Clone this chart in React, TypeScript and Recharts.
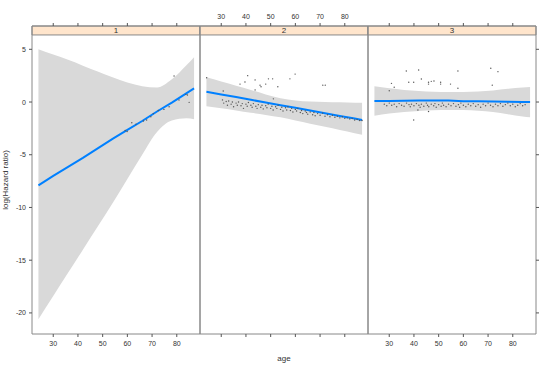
import React from 'react';
import {
  ComposedChart,
  Area,
  Line,
  Scatter,
  XAxis,
  YAxis,
  ReferenceArea,
} from 'recharts';

const C = {
  axis: '#888888',
  tick: '#555555',
  text: '#333333',
  band: '#D9D9D9',
  fit: '#0080FF',
  strip: '#FFE5CC',
  point: '#555555',
};

const FONT = '"Liberation Sans", Arial, sans-serif';

// shared scales
const X_DOMAIN: [number, number] = [21.4, 89.4];
const Y_DOMAIN: [number, number] = [-22, 7.21];
const STRIP_BOTTOM = 6.36;
const X_TICKS = [30, 40, 50, 60, 70, 80];
const Y_TICKS = [-20, -15, -10, -5, 0, 5];

// smooth fit + confidence band, evaluated at these ages
const AGES = [24, 30, 36, 42, 48, 54, 60, 66, 72, 78, 84, 87];

const fit1 = [-7.9, -7.0, -6.15, -5.3, -4.4, -3.5, -2.65, -1.8, -0.9, -0.05, 0.85, 1.3];
const upper1 = [5.0, 4.5, 4.0, 3.45, 2.9, 2.35, 1.85, 1.5, 1.38, 2.15, 3.5, 4.25];
const lower1 = [-20.6, -18.4, -16.2, -14.0, -11.8, -9.6, -7.3, -5.0, -2.85, -1.75, -1.55, -1.64];

const fit2 = [0.98, 0.72, 0.47, 0.21, -0.04, -0.3, -0.55, -0.81, -1.06, -1.32, -1.57, -1.7];
const upper2 = [2.35, 1.95, 1.55, 1.15, 0.72, 0.35, 0.15, 0.05, 0.0, -0.03, -0.06, -0.08];
const lower2 = [-0.4, -0.6, -0.8, -1.02, -1.22, -1.45, -1.75, -2.05, -2.35, -2.65, -2.95, -3.1];

const fit3 = [0.1, 0.1, 0.12, 0.14, 0.14, 0.14, 0.08, 0.07, 0.06, 0.02, 0.0, 0.0];
const upper3 = [1.5, 1.3, 1.15, 1.05, 0.98, 0.95, 0.95, 1.0, 1.1, 1.25, 1.38, 1.42];
const lower3 = [-1.3, -1.1, -0.95, -0.85, -0.78, -0.75, -0.76, -0.82, -0.95, -1.15, -1.38, -1.45];

// residual points [age, value]
const points1: [number, number][] = [
  [78.9, 2.47], [83.7, 0.73], [85, -0.03], [80.9, 0.19], [76.9, -0.45], [74.8, -0.7],
  [69.5, -1.4], [67.8, -1.7], [66.5, -1.8], [59.1, -2.7], [59.9, -2.8], [61.8, -1.96],
  [70.5, -1.1], [84.3, 0.66], [63.5, -2.1], [72.5, -0.8],
];

const points2: [number, number][] = [
  [24.1, 2.3], [40.7, 2.5], [37.6, 1.7], [39.6, 1.9], [43.7, 2.1], [45.7, 1.6], [46.1, 1.45],
  [48, 1.7], [49.1, 2.2], [50.8, 2.2], [52.9, 1.45], [57.8, 2.2], [59.9, 2.65], [43.7, 1.15],
  [71.1, 1.6], [72.1, 1.6], [30.8, 1.05], [51.1, 0.3],
  [30.5, 0.2], [31, -0.1], [32, 0.05], [32.5, -0.3], [33, 0.1], [34, -0.2], [34.5, 0.0],
  [35, -0.45], [36, -0.1], [36.5, -0.3], [37, 0.0], [38, -0.35], [38.5, -0.15], [39, -0.6],
  [40, -0.2], [40.5, -0.4], [41, -0.05], [42, -0.3], [42.5, -0.5], [43, -0.15], [44, -0.4],
  [44.5, -0.6], [45, -0.25], [46, -0.5], [46.5, -0.3], [47, -0.65], [48, -0.35], [48.5, -0.55],
  [49, -0.2], [50, -0.6], [50.5, -0.4], [51, -0.75], [52, -0.45], [52.5, -0.6], [53, -0.3],
  [54, -0.7], [54.5, -0.5], [55, -0.85], [56, -0.55], [56.5, -0.75], [57, -0.45], [58, -0.8],
  [58.5, -0.6], [59, -0.95], [60, -0.7], [60.5, -0.85], [61, -0.6], [62, -1.0], [62.5, -0.8],
  [63, -1.1], [64, -0.85], [64.5, -1.0], [65, -1.15], [66, -0.95], [67, -1.2], [67.5, -1.0],
  [68, -1.3], [69, -1.1], [70, -1.25], [71, -1.05], [72, -1.35], [73, -1.2], [74, -1.4],
  [75, -1.25], [76, -1.45], [77, -1.35], [78, -1.5], [79, -1.4], [80, -1.55], [81, -1.5],
  [82, -1.6], [83, -1.55], [84, -1.7], [85, -1.65], [86, -1.75], [87, -1.75],
];

const points3: [number, number][] = [
  [36.9, 2.94], [41.9, 3.04], [57.8, 2.94], [71.1, 3.2], [74, 2.88], [30.9, 1.77], [30, 1.07],
  [32, 1.4], [37.9, 1.87], [39.9, 1.87], [43, 2.18], [45.9, 1.87], [45.9, 1.7], [47, 1.96],
  [48.1, 2.0], [50.8, 1.87], [50.8, 1.7], [54.8, 1.7], [57.8, 1.3], [71.7, 1.6], [39.9, -1.7],
  [45.9, -0.9], [41.6, -0.76],
  [28, -0.2], [29, -0.35], [30, -0.1], [31, -0.3], [32, -0.2], [33, -0.45], [34, -0.15],
  [35, -0.3], [36, -0.4], [37, -0.1], [38, -0.25], [38.5, -0.45], [39, -0.2], [40, -0.35],
  [41, -0.15], [42, -0.3], [42.5, -0.5], [43, -0.2], [44, -0.4], [45, -0.1], [45.5, -0.3],
  [46, -0.45], [47, -0.2], [48, -0.35], [48.5, -0.15], [49, -0.5], [50, -0.25], [51, -0.4],
  [51.5, -0.1], [52, -0.3], [53, -0.45], [54, -0.2], [55, -0.35], [56, -0.15], [57, -0.4],
  [58, -0.25], [58.5, -0.5], [59, -0.1], [60, -0.3], [61, -0.45], [62, -0.2], [63, -0.35],
  [64, -0.15], [65, -0.4], [66, -0.25], [67, -0.5], [68, -0.2], [69, -0.35], [70, -0.1],
  [71, -0.3], [72, -0.45], [73, -0.2], [74, -0.35], [75, -0.15], [76, -0.4], [77, -0.25],
  [78, -0.1], [79, -0.35], [80, -0.2], [81, -0.45], [82, -0.3], [83, -0.15], [84, -0.35],
  [85, -0.25],
];

const tickStyle = { fontSize: 7, fill: C.text, stroke: 'none', fontFamily: FONT };
// tick mark only: label text kept but not painted
const hiddenTick = { ...tickStyle, fill: 'none' };

const dot = (p: any) => <circle cx={p.cx} cy={p.cy} r={0.7} fill={C.point} />;

function Panel({
  n,
  plotLeft,
  fit,
  upper,
  lower,
  points,
}: {
  n: number;
  plotLeft: number;
  fit: number[];
  upper: number[];
  lower: number[];
  points: [number, number][];
}) {
  const rows = AGES.map((age, i) => ({ age, fit: fit[i], band: [lower[i], upper[i]] }));
  const pts = points.map(([age, v]) => ({ age, v }));
  const leftW = n === 1 ? 32 : 0;
  const rightW = n === 3 ? 10 : 0;
  const margin = {
    top: 6,
    bottom: 3,
    left: plotLeft - leftW,
    right: 554 - (plotLeft + 168) - rightW,
  };

  return (
    <div style={{ position: 'absolute', left: 0, top: 0 }}>
      <ComposedChart width={554} height={367} data={rows} margin={margin}>
        <XAxis
          dataKey="age"
          type="number"
          domain={X_DOMAIN}
          allowDataOverflow
          ticks={X_TICKS}
          interval={0}
          height={30}
          stroke={C.tick}
          axisLine={false}
          tickSize={3}
          tickMargin={4}
          tickLine
          tick={n === 2 ? hiddenTick : tickStyle}
          label={
            n === 2
              ? { value: 'age', position: 'insideBottom', offset: 3, fontSize: 8, fill: C.text, fontFamily: FONT }
              : undefined
          }
        />
        <XAxis
          xAxisId="t"
          orientation="top"
          dataKey="age"
          type="number"
          domain={X_DOMAIN}
          allowDataOverflow
          ticks={X_TICKS}
          interval={0}
          height={20}
          stroke={C.tick}
          axisLine={false}
          tickSize={3}
          tickMargin={4}
          tickLine
          tick={n === 2 ? tickStyle : hiddenTick}
        />
        <YAxis
          type="number"
          domain={Y_DOMAIN}
          allowDataOverflow
          ticks={Y_TICKS}
          interval={0}
          width={32}
          hide={n !== 1}
          stroke={C.tick}
          axisLine={false}
          tickSize={3}
          tickMargin={3}
          tickLine
          tick={tickStyle}
          label={{
            value: 'log(Hazard ratio)',
            angle: -90,
            position: 'insideLeft',
            offset: 5,
            fontSize: 8,
            fill: C.text,
            fontFamily: FONT,
            style: { textAnchor: 'middle' },
          }}
        />
        {n === 3 && (
          <YAxis
            yAxisId="r"
            orientation="right"
            type="number"
            domain={Y_DOMAIN}
            allowDataOverflow
            ticks={Y_TICKS}
            interval={0}
            width={10}
            stroke={C.tick}
            axisLine={false}
            tickSize={3}
            tickLine
            tick={hiddenTick}
          />
        )}
        <Area
          type="monotone"
          dataKey="band"
          stroke="none"
          fill={C.band}
          fillOpacity={1}
          isAnimationActive={false}
        />
        <Scatter data={pts} dataKey="v" shape={dot} isAnimationActive={false} />
        <Line
          type="linear"
          dataKey="fit"
          stroke={C.fit}
          strokeWidth={2}
          dot={false}
          isAnimationActive={false}
        />
        <ReferenceArea
          x1={X_DOMAIN[0]}
          x2={X_DOMAIN[1]}
          y1={STRIP_BOTTOM}
          y2={Y_DOMAIN[1]}
          fill={C.strip}
          fillOpacity={1}
          stroke={C.axis}
          label={{ value: String(n), position: 'center', fontSize: 8, fill: C.text, fontFamily: FONT }}
        />
        <ReferenceArea
          x1={X_DOMAIN[0]}
          x2={X_DOMAIN[1]}
          y1={Y_DOMAIN[0]}
          y2={Y_DOMAIN[1]}
          fill="none"
          stroke={C.axis}
        />
      </ComposedChart>
    </div>
  );
}

export default function App() {
  return (
    <div style={{ position: 'absolute', left: 0, top: 0, width: 554, height: 367, background: '#fff' }}>
      <Panel n={1} plotLeft={32} fit={fit1} upper={upper1} lower={lower1} points={points1} />
      <Panel n={2} plotLeft={200} fit={fit2} upper={upper2} lower={lower2} points={points2} />
      <Panel n={3} plotLeft={368} fit={fit3} upper={upper3} lower={lower3} points={points3} />
    </div>
  );
}
